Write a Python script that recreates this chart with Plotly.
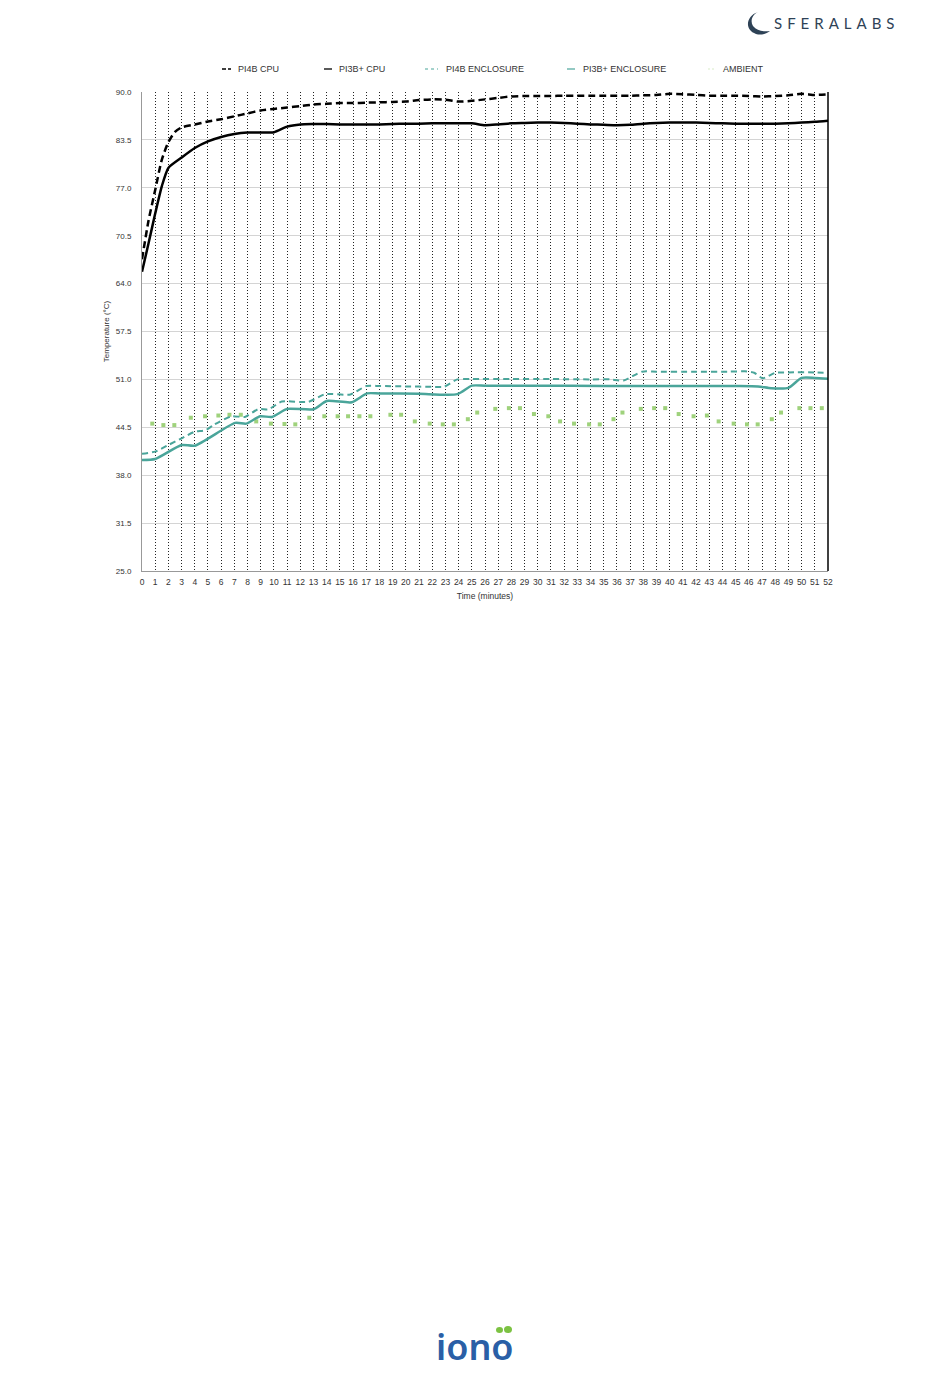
import plotly.graph_objects as go

# ---------------- data ----------------
pi4b_cpu_t = [0, 0.5, 1, 1.5, 2, 2.5, 3, 4, 5, 6, 7, 8, 9, 10, 11, 12, 13, 14, 15, 16,
              17, 18, 19, 20, 21, 22, 23, 24, 25, 26, 27, 28, 29, 30, 31, 32, 33, 34,
              35, 36, 37, 38, 39, 40, 41, 42, 43, 44, 45, 46, 47, 48, 49, 50, 51, 52]
pi4b_cpu_v = [67.3, 72.6, 76.7, 80.8, 83.2, 84.6, 85.2, 85.6, 86.0, 86.3, 86.7, 87.1,
              87.5, 87.7, 87.9, 88.1, 88.3, 88.4, 88.5, 88.5, 88.55, 88.6, 88.65, 88.7,
              88.9, 89.0, 88.95, 88.7, 88.8, 89.0, 89.2, 89.4, 89.45, 89.45, 89.45,
              89.5, 89.5, 89.5, 89.5, 89.5, 89.5, 89.55, 89.6, 89.75, 89.7, 89.6, 89.5,
              89.5, 89.5, 89.45, 89.4, 89.45, 89.55, 89.75, 89.6, 89.7]

pi3b_cpu_t = [0, 0.5, 1, 1.5, 2, 3, 4, 5, 6, 7, 8, 9, 10, 11, 12, 13, 14, 15, 16, 17,
              18, 19, 20, 21, 22, 23, 24, 25, 26, 27, 28, 29, 30, 31, 32, 33, 34, 35,
              36, 37, 38, 39, 40, 41, 42, 43, 44, 45, 46, 47, 48, 49, 50, 51, 52]
pi3b_cpu_v = [65.6, 69.5, 73.5, 77.2, 79.7, 81.1, 82.4, 83.3, 83.9, 84.3, 84.5, 84.5,
              84.55, 85.3, 85.6, 85.65, 85.65, 85.6, 85.6, 85.6, 85.6, 85.65, 85.7,
              85.7, 85.75, 85.75, 85.75, 85.75, 85.5, 85.6, 85.75, 85.8, 85.85, 85.85,
              85.8, 85.7, 85.6, 85.55, 85.5, 85.55, 85.7, 85.8, 85.85, 85.85, 85.85,
              85.8, 85.75, 85.7, 85.7, 85.7, 85.7, 85.75, 85.85, 85.95, 86.1]

pi4b_enc_t = [0, 1, 2, 3, 4, 4.8, 5.5, 6.8, 7.8, 8.8, 9.6, 10.6, 12.6, 13.9, 15.8, 17.0,
              18, 20, 22, 22.9, 23.9, 25, 28, 31, 34, 35.5, 36.5, 37.9, 39, 42, 44.5,
              45.7, 46.4, 47.05, 48.0, 49, 51, 52]
pi4b_enc_v = [40.9, 41.2, 42.1, 43.0, 43.9, 44.1, 44.9, 46.0, 45.9, 46.95, 46.95, 48.0,
              47.95, 49.0, 48.96, 50.1, 50.1, 50.05, 50.0, 50.0, 51.0, 51.05, 51.05,
              51.05, 51.0, 51.0, 50.85, 52.05, 52.05, 52.05, 52.05, 52.1, 51.9, 51.15,
              51.9, 51.95, 51.95, 51.9]

pi3b_enc_t = [0, 1, 3.0, 4.0, 7.06, 7.9, 8.96, 9.85, 11.0, 13.0, 14.0, 15.9, 17.06,
              18, 21, 23.9, 25.0, 26, 30, 35, 40, 45, 46.7, 47.7, 49.0, 50.0, 51, 52]
pi3b_enc_v = [40.07, 40.2, 42.1, 42.0, 45.1, 45.0, 46.0, 45.9, 47.0, 46.95, 48.07,
              47.9, 49.1, 49.1, 49.05, 49.0, 50.15, 50.15, 50.15, 50.1, 50.1, 50.1,
              50.05, 49.8, 49.85, 51.2, 51.2, 51.1]

ambient_t = [0.78, 1.62, 2.45, 3.70, 4.78, 5.79, 6.63, 7.49, 8.66, 9.77, 10.80, 11.62,
             12.68, 13.82, 14.83, 15.62, 16.48, 17.31, 18.83, 19.64, 20.68, 21.81,
             22.80, 23.64, 24.70, 25.41, 26.78, 27.81, 28.65, 29.71, 30.80, 31.69,
             32.75, 33.89, 34.70, 35.74, 36.42, 37.81, 38.82, 39.66, 40.68, 41.81,
             42.82, 43.71, 44.85, 45.86, 46.67, 47.74, 48.44, 49.83, 50.67, 51.53]
ambient_v = [45.0, 44.8, 44.8, 45.8, 46.0, 46.1, 46.2, 46.2, 45.3, 45.0, 44.95, 44.9,
             45.8, 46.0, 46.0, 46.0, 46.0, 46.0, 46.2, 46.2, 45.3, 45.0, 44.9, 44.9,
             45.6, 46.5, 47.0, 47.1, 47.1, 46.3, 46.0, 45.3, 45.0, 44.9, 44.9, 45.6,
             46.5, 47.0, 47.1, 47.1, 46.3, 46.0, 46.1, 45.3, 45.0, 44.9, 44.9, 45.6,
             46.5, 47.1, 47.1, 47.1]

x_ticks = list(range(0, 53))
y_ticks = [25.0, 31.5, 38.0, 44.5, 51.0, 57.5, 64.0, 70.5, 77.0, 83.5, 90.0]

series_names = ["PI4B CPU", "PI3B+ CPU", "PI4B ENCLOSURE", "PI3B+ ENCLOSURE", "AMBIENT"]

# ---------------- styling ----------------
TEAL = "#4aa59a"
GREEN = "#9fd27c"
FONT = "Liberation Sans"
OFF = 8                      # default page body margin
W, H = 950 - OFF, 1387 - OFF
L, R, T, B = 142 - OFF, 828 - OFF, 92 - OFF, 571 - OFF


def px(xp):
    """reference-page pixel x -> paper coordinate"""
    return (xp - OFF - L) / (R - L)


def py(yp):
    """reference-page pixel y -> paper coordinate"""
    return (B - (yp - OFF)) / (B - T)


fig = go.Figure()

fig.add_trace(go.Scatter(x=ambient_t, y=ambient_v, mode="markers", name=series_names[4],
                         marker=dict(symbol="square", size=4, color=GREEN,
                                     line=dict(width=0))))
fig.add_trace(go.Scatter(x=pi4b_enc_t, y=pi4b_enc_v, mode="lines", name=series_names[2],
                         line=dict(color=TEAL, width=2, dash="6px,4px",
                                   shape="spline", smoothing=0.6)))
fig.add_trace(go.Scatter(x=pi3b_enc_t, y=pi3b_enc_v, mode="lines", name=series_names[3],
                         line=dict(color=TEAL, width=2.5, shape="spline", smoothing=0.6)))
fig.add_trace(go.Scatter(x=pi4b_cpu_t, y=pi4b_cpu_v, mode="lines", name=series_names[0],
                         line=dict(color="black", width=2.5, dash="7px,4px",
                                   shape="spline", smoothing=0.6)))
fig.add_trace(go.Scatter(x=pi3b_cpu_t, y=pi3b_cpu_v, mode="lines", name=series_names[1],
                         line=dict(color="black", width=2.5, shape="spline", smoothing=0.6)))

fig.update_layout(
    width=W, height=H,
    margin=dict(l=L, r=W - R, t=T, b=H - B, pad=0),
    paper_bgcolor="white", plot_bgcolor="white",
    showlegend=False,
    font=dict(family=FONT, size=8, color="#333"),
)

fig.update_xaxes(
    range=[0, 52], tickmode="array", tickvals=x_ticks,
    ticktext=[str(v) for v in x_ticks],
    showgrid=True, gridcolor="#222", griddash="1px,2px", gridwidth=1,
    showline=True, linecolor="#999", linewidth=1,
    ticks="outside", ticklen=3, tickcolor="rgba(0,0,0,0)",
    tickfont=dict(family=FONT, size=8.5, color="#333"),
    title=dict(text="Time (minutes)", font=dict(family=FONT, size=8.5, color="#333"),
               standoff=6),
    zeroline=False, automargin=False,
)
fig.update_yaxes(
    range=[25, 90], tickmode="array", tickvals=y_ticks,
    ticktext=[f"{v:.1f}" for v in y_ticks],
    showgrid=True, gridcolor="#d4d4d4", gridwidth=1,
    showline=True, linecolor="#999", linewidth=1,
    ticks="outside", ticklen=8, tickcolor="rgba(0,0,0,0)",
    tickfont=dict(family=FONT, size=8, color="#333"),
    title=dict(text="Temperature (°C)", font=dict(family=FONT, size=8, color="#333"),
               standoff=5),
    zeroline=False, automargin=False,
)

shapes = []
annotations = []

# right border (black)
shapes.append(dict(type="line", xref="paper", yref="paper", x0=1, x1=1, y0=0, y1=1,
                   line=dict(color="black", width=1.5)))

# custom compact legend
legend_items = [
    (series_names[0], 222, 231, "black", "4px,2px", 1.3, 236),
    (series_names[1], 324, 332, "black", "solid", 1.3, 337),
    (series_names[2], 425, 438, TEAL, "3px,3px", 1.2, 444),
    (series_names[3], 567, 575, TEAL, "solid", 1.2, 581),
    (series_names[4], 708, 714, "#d8ecc8", "2px,2px", 1.2, 721),
]
ly = 69
for name, x0, x1, col, dash, wid, tx in legend_items:
    shapes.append(dict(type="line", xref="paper", yref="paper",
                       x0=px(x0), x1=px(x1), y0=py(ly), y1=py(ly),
                       line=dict(color=col, width=wid, dash=dash)))
    annotations.append(dict(text=name, xref="paper", yref="paper", x=px(tx), y=py(ly),
                            xanchor="left", yanchor="middle", showarrow=False,
                            font=dict(family=FONT, size=9, color="#333")))

# SFERALABS logo (text + crescent)
annotations.append(dict(text="\u2004".join("SFERALABS"), xref="paper", yref="paper",
                        x=px(772), y=py(23), xanchor="left", yanchor="middle",
                        showarrow=False,
                        font=dict(family="Lato", size=15, color="#2e4256")))

cres = ("M {} {} C {} {} {} {} {} {} C {} {} {} {} {} {} "
        "C {} {} {} {} {} {} C {} {} {} {} {} {} Z").format(
    px(758), py(12),
    px(746), py(16), px(744), py(30), px(756), py(34),
    px(761), py(35.5), px(766), py(34), px(770), py(31),
    px(764), py(32), px(757), py(31), px(753), py(26),
    px(750), py(21), px(752), py(15), px(758), py(12))
shapes.append(dict(type="path", xref="paper", yref="paper", path=cres,
                   fillcolor="#2e4256", line=dict(width=0)))

# iono logo
annotations.append(dict(text="iono", xref="paper", yref="paper",
                        x=px(475), y=py(1346), xanchor="center", yanchor="middle",
                        showarrow=False,
                        font=dict(family="Noto Sans", size=36, color="#2a5fa6",
                                  weight=600)))
shapes.append(dict(type="circle", xref="paper", yref="paper",
                   x0=px(496), x1=px(503), y0=py(1327), y1=py(1333),
                   fillcolor="#7cc242", line=dict(width=0)))
shapes.append(dict(type="circle", xref="paper", yref="paper",
                   x0=px(504), x1=px(512), y0=py(1326), y1=py(1333),
                   fillcolor="#7cc242", line=dict(width=0)))

fig.update_layout(shapes=shapes, annotations=annotations)

fig.write_html("out.html")
